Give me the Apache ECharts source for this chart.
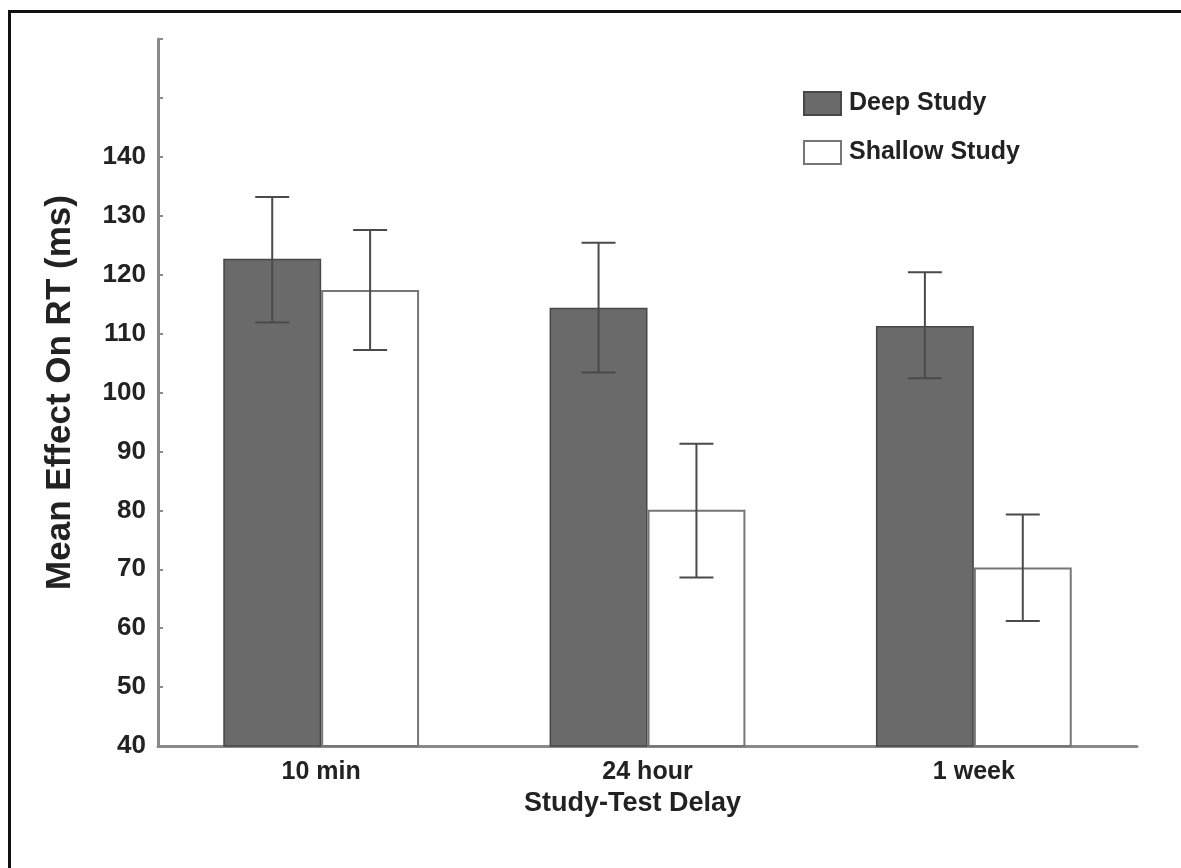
<!DOCTYPE html>
<html>
<head>
<meta charset="utf-8">
<title>Mean Effect On RT</title>
<script src="https://cdn.jsdelivr.net/npm/echarts@6/dist/echarts.min.js"></script>
<style>
  html, body { margin: 0; padding: 0; background: #fff; overflow: hidden; }
  #frame {
    position: absolute; left: 8px; top: 10px;
    width: 1200px; height: 900px;
    border: 3px solid #111; box-sizing: border-box;
  }
  #myChart { position: absolute; left: 0; top: 0; width: 1181px; height: 868px; }
</style>
</head>
<body>
<div id="frame"></div>
<div id="myChart"></div>
<script>
// categories and values
var delays = ["10 min", "24 hour", "1 week"];
var deepMean = [122.7, 114.4, 111.3];
var deepLow = [111.9, 103.4, 102.4];
var deepHigh = [133.2, 125.4, 120.4];
var shallowMean = [117.4, 80.1, 70.3];
var shallowLow = [107.2, 68.6, 61.2];
var shallowHigh = [127.6, 91.3, 79.3];
var yTicks = [40, 50, 60, 70, 80, 90, 100, 110, 120, 130, 140];

var fontName = "'Liberation Sans', Arial, sans-serif";

function errData(low, high) {
  var out = [];
  for (let i = 0; i < low.length; i++) {
    out.push([i, low[i], high[i]]);
  }
  return out;
}

// error bar drawn at the centre of one of the two bars in a group
function errorBar(side) {
  return function(params, api) {
    var idx = api.value(0);
    var lo = api.coord([idx, api.value(1)]);
    var hi = api.coord([idx, api.value(2)]);
    var band = api.size([1, 0])[0];
    var cx = lo[0] + side * band * 0.15;
    var half = 17;
    var st = { stroke: "#4a4a4a", lineWidth: 2 };
    return {
      type: "group",
      children: [
        { type: "line", shape: { x1: cx, y1: hi[1], x2: cx, y2: lo[1] }, style: st },
        { type: "line", shape: { x1: cx - half, y1: hi[1], x2: cx + half, y2: hi[1] }, style: st },
        { type: "line", shape: { x1: cx - half, y1: lo[1], x2: cx + half, y2: lo[1] }, style: st }
      ]
    };
  };
}

let myChart = echarts.init(document.getElementById("myChart"));

let option = {
  backgroundColor: "transparent",
  animation: false,
  textStyle: { fontFamily: fontName },
  grid: {
    left: 158,
    right: 44,
    top: 39,
    bottom: 122
  },
  legend: {
    orient: "vertical",
    left: 798,
    top: 86,
    itemWidth: 37,
    itemHeight: 23,
    itemGap: 24,
    icon: "rect",
    textStyle: {
      fontFamily: fontName,
      fontSize: 25,
      fontWeight: "bold",
      color: "#222",
      padding: [0, 0, 0, 3]
    },
    data: ["Deep Study", "Shallow Study"]
  },
  xAxis: {
    type: "category",
    data: delays,
    name: "Study-Test Delay",
    nameLocation: "middle",
    nameGap: 37,
    nameTextStyle: {
      fontFamily: fontName,
      fontSize: 27,
      fontWeight: "bold",
      color: "#222",
      padding: [0, 30, 0, 0]
    },
    axisLine: { lineStyle: { color: "#8a8a8a", width: 3 } },
    axisTick: { show: false },
    axisLabel: {
      fontFamily: fontName,
      fontSize: 25,
      fontWeight: "bold",
      color: "#222",
      margin: 14
    }
  },
  yAxis: {
    type: "value",
    min: 40,
    max: 160,
    interval: 10,
    name: "Mean Effect On RT (ms)",
    nameLocation: "middle",
    nameGap: 80,
    nameTextStyle: {
      fontFamily: fontName,
      fontSize: 35,
      fontWeight: "bold",
      color: "#222"
    },
    axisLine: { show: true, lineStyle: { color: "#8a8a8a", width: 3 } },
    axisTick: { show: true, inside: true, length: 5, lineStyle: { color: "#8a8a8a", width: 2 } },
    splitLine: { show: false },
    axisLabel: {
      fontFamily: fontName,
      fontSize: 26,
      fontWeight: "bold",
      color: "#222",
      margin: 12,
      formatter: function(v) {
        return yTicks.indexOf(v) >= 0 ? String(v) : "";
      }
    }
  },
  series: [
    {
      name: "Deep Study",
      type: "bar",
      barWidth: "30%",
      barGap: "0%",
      data: deepMean,
      itemStyle: { color: "#6a6a6a", borderColor: "#474747", borderWidth: 1.5 }
    },
    {
      name: "Shallow Study",
      type: "bar",
      barWidth: "30%",
      barGap: "0%",
      data: shallowMean,
      itemStyle: { color: "#ffffff", borderColor: "#767676", borderWidth: 2 }
    },
    {
      type: "custom",
      renderItem: errorBar(-1),
      encode: { x: 0, y: [1, 2] },
      data: errData(deepLow, deepHigh),
      z: 5
    },
    {
      type: "custom",
      renderItem: errorBar(1),
      encode: { x: 0, y: [1, 2] },
      data: errData(shallowLow, shallowHigh),
      z: 5
    }
  ]
};
myChart.setOption(option);
</script>
</body>
</html>
